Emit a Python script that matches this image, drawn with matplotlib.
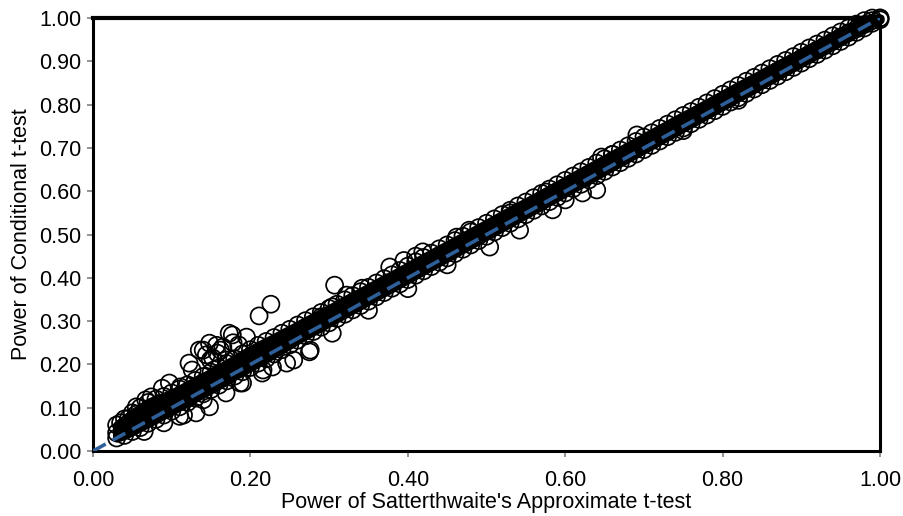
import matplotlib
matplotlib.use("Agg")
import matplotlib.pyplot as plt
from matplotlib.ticker import FormatStrFormatter

plt.rcParams["font.family"] = ["Liberation Sans", "DejaVu Sans"]

# Main band (read along the diagonal, three rows: middle, upper edge, lower edge)
band_x = [0.03, 0.04, 0.05, 0.06, 0.07, 0.08, 0.09, 0.10, 0.11, 0.12,
          0.13, 0.14, 0.15, 0.16, 0.17, 0.18, 0.19, 0.20, 0.21, 0.22,
          0.23, 0.24, 0.25, 0.26, 0.27, 0.28, 0.29, 0.30, 0.31, 0.32,
          0.33, 0.34, 0.35, 0.36, 0.37, 0.38, 0.39, 0.40, 0.41, 0.42,
          0.43, 0.44, 0.45, 0.46, 0.47, 0.48, 0.49, 0.50, 0.51, 0.52,
          0.53, 0.54, 0.55, 0.56, 0.57, 0.58, 0.59, 0.60, 0.61, 0.62,
          0.63, 0.64, 0.65, 0.66, 0.67, 0.68, 0.69, 0.70, 0.71, 0.72,
          0.73, 0.74, 0.75, 0.76, 0.77, 0.78, 0.79, 0.80, 0.81, 0.82,
          0.83, 0.84, 0.85, 0.86, 0.87, 0.88, 0.89, 0.90, 0.91, 0.92,
          0.93, 0.94, 0.95, 0.96, 0.97, 0.98, 0.99, 1.00]
band_mid = [0.042, 0.052, 0.063, 0.073, 0.084, 0.094, 0.104, 0.115, 0.125, 0.134,
            0.145, 0.155, 0.164, 0.175, 0.184, 0.194, 0.204, 0.213, 0.223, 0.233,
            0.242, 0.252, 0.262, 0.271, 0.281, 0.291, 0.300, 0.310, 0.320, 0.330,
            0.340, 0.350, 0.360, 0.370, 0.380, 0.390, 0.400, 0.410, 0.420, 0.430,
            0.440, 0.449, 0.459, 0.469, 0.479, 0.489, 0.499, 0.509, 0.519, 0.529,
            0.539, 0.549, 0.559, 0.569, 0.579, 0.589, 0.599, 0.609, 0.619, 0.629,
            0.639, 0.649, 0.659, 0.669, 0.679, 0.689, 0.698, 0.708, 0.718, 0.728,
            0.738, 0.748, 0.758, 0.768, 0.778, 0.788, 0.798, 0.808, 0.818, 0.828,
            0.837, 0.847, 0.857, 0.867, 0.877, 0.887, 0.897, 0.907, 0.916, 0.926,
            0.936, 0.946, 0.956, 0.966, 0.975, 0.985, 0.994, 1.000]
band_hi = [0.060, 0.074, 0.088, 0.100, 0.112, 0.120, 0.126, 0.134, 0.143, 0.153,
           0.163, 0.172, 0.182, 0.192, 0.202, 0.213, 0.224, 0.234, 0.244, 0.253,
           0.262, 0.272, 0.281, 0.291, 0.301, 0.310, 0.320, 0.329, 0.339, 0.349,
           0.359, 0.368, 0.378, 0.388, 0.398, 0.407, 0.417, 0.427, 0.437, 0.447,
           0.457, 0.467, 0.476, 0.486, 0.496, 0.506, 0.516, 0.526, 0.536, 0.546,
           0.556, 0.566, 0.575, 0.585, 0.595, 0.605, 0.615, 0.625, 0.635, 0.645,
           0.655, 0.665, 0.675, 0.685, 0.695, 0.705, 0.715, 0.725, 0.735, 0.745,
           0.755, 0.765, 0.775, 0.784, 0.794, 0.804, 0.814, 0.824, 0.834, 0.844,
           0.854, 0.863, 0.873, 0.883, 0.893, 0.902, 0.911, 0.921, 0.931, 0.940,
           0.949, 0.959, 0.968, 0.977, 0.986, 0.994, 1.000, 1.000]
band_lo = [0.030, 0.036, 0.045, 0.054, 0.064, 0.073, 0.083, 0.092, 0.102, 0.112,
           0.122, 0.132, 0.142, 0.152, 0.162, 0.173, 0.183, 0.193, 0.203, 0.213,
           0.224, 0.234, 0.245, 0.256, 0.266, 0.276, 0.286, 0.296, 0.306, 0.316,
           0.326, 0.336, 0.346, 0.356, 0.366, 0.376, 0.386, 0.396, 0.406, 0.416,
           0.426, 0.436, 0.446, 0.456, 0.466, 0.476, 0.486, 0.496, 0.506, 0.516,
           0.526, 0.536, 0.546, 0.556, 0.566, 0.576, 0.586, 0.596, 0.606, 0.616,
           0.626, 0.636, 0.646, 0.656, 0.666, 0.676, 0.686, 0.696, 0.706, 0.716,
           0.726, 0.736, 0.746, 0.756, 0.766, 0.776, 0.786, 0.796, 0.806, 0.816,
           0.826, 0.836, 0.846, 0.856, 0.866, 0.876, 0.886, 0.896, 0.906, 0.916,
           0.926, 0.936, 0.946, 0.956, 0.967, 0.977, 0.988, 0.996]

# Scattered points away from the band
out_x = [0.035, 0.045, 0.055, 0.065, 0.074, 0.088, 0.097, 0.122, 0.126, 0.135,
         0.148, 0.158, 0.165, 0.152, 0.173, 0.177, 0.195, 0.185, 0.211, 0.226,
         0.090, 0.110, 0.131, 0.148, 0.169, 0.190, 0.215, 0.228, 0.246, 0.255,
         0.275, 0.304, 0.307, 0.322, 0.342, 0.304, 0.290, 0.360, 0.377, 0.395,
         0.419, 0.410, 0.462, 0.478, 0.576, 0.530, 0.504, 0.542, 0.584, 0.450,
         0.400, 0.350, 0.646, 0.691, 0.660, 0.640, 0.622, 0.600, 0.750, 0.820,
         0.140, 0.162, 0.169, 0.149, 0.111, 0.067, 0.055, 0.115, 0.140, 0.187,
         0.216, 0.276, 0.144, 0.157, 0.178]
out_y = [0.065, 0.075, 0.085, 0.045, 0.125, 0.145, 0.157, 0.203, 0.187, 0.233,
         0.249, 0.226, 0.240, 0.215, 0.272, 0.268, 0.263, 0.245, 0.312, 0.339,
         0.065, 0.080, 0.088, 0.102, 0.134, 0.157, 0.180, 0.194, 0.203, 0.210,
         0.229, 0.272, 0.383, 0.360, 0.376, 0.333, 0.310, 0.370, 0.425, 0.440,
         0.460, 0.450, 0.494, 0.510, 0.598, 0.550, 0.471, 0.510, 0.557, 0.430,
         0.375, 0.325, 0.679, 0.730, 0.685, 0.603, 0.596, 0.580, 0.740, 0.810,
         0.233, 0.233, 0.210, 0.210, 0.148, 0.118, 0.102, 0.083, 0.118, 0.157,
         0.187, 0.233, 0.222, 0.244, 0.250]

ref_line = [0.0, 1.0]

fig = plt.figure(figsize=(9.04, 5.16), dpi=100)
ax = fig.add_axes([0.1029, 0.126, 0.8706, 0.839])

marker_style = dict(marker="o", s=150, facecolors="none", edgecolors="black",
                    linewidths=1.25, clip_on=False, zorder=3)
ax.scatter(out_x, out_y, **marker_style)
ax.scatter(band_x, band_lo, **marker_style)
ax.scatter(band_x, band_hi, **marker_style)
ax.scatter(band_x, band_mid, **marker_style)
# the overplotted core of the band renders solid black
ax.fill_between(band_x, band_lo, band_hi, color="black", linewidth=6,
                edgecolor="black", zorder=3, clip_on=False)

ax.plot(ref_line, ref_line, color="#2e5f98", linewidth=2.6,
        dashes=(4, 2.2), zorder=4)

ax.set_xlim(0, 1)
ax.set_ylim(0, 1)
ax.set_xticks([0.0, 0.2, 0.4, 0.6, 0.8, 1.0])
ax.set_yticks([0.0, 0.1, 0.2, 0.3, 0.4, 0.5, 0.6, 0.7, 0.8, 0.9, 1.0])
ax.xaxis.set_major_formatter(FormatStrFormatter("%.2f"))
ax.yaxis.set_major_formatter(FormatStrFormatter("%.2f"))
ax.tick_params(direction="out", length=4.5, width=1.2, color="#808080",
               labelsize=15.5, labelcolor="black")
ax.tick_params(axis="x", pad=9)
ax.tick_params(axis="y", pad=4)

for side in ["left", "bottom", "right"]:
    ax.spines[side].set_linewidth(2.2)
    ax.spines[side].set_color("black")
ax.spines["top"].set_linewidth(3.0)
ax.spines["top"].set_color("black")

ax.set_xlabel("Power of Satterthwaite's Approximate t-test", fontsize=15.5, labelpad=1)
ax.set_ylabel("Power of Conditional t-test", fontsize=15.5, labelpad=5)

fig.savefig("out.png", dpi=100, facecolor="white")
